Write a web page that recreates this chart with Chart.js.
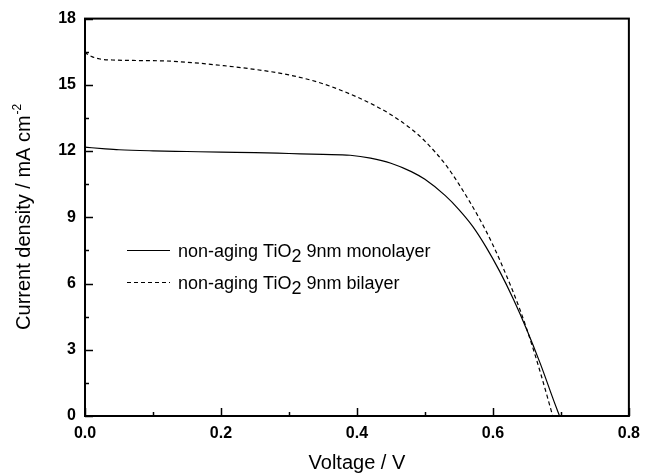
<!DOCTYPE html>
<html>
<head>
<meta charset="utf-8">
<script src="https://cdn.jsdelivr.net/npm/chart.js@4.4.1/dist/chart.umd.min.js"></script>
<style>
  html, body { margin: 0; padding: 0; background: #fff; }
  canvas { display: block; }
</style>
</head>
<body>
<canvas id="myChart" width="648" height="475"></canvas>
<script>
// monolayer J-V curve
const voltageMono = [0, 0.01, 0.03, 0.05, 0.1, 0.15, 0.2, 0.25, 0.3, 0.35, 0.39, 0.42, 0.45, 0.48, 0.5, 0.53, 0.55, 0.57, 0.59, 0.61, 0.63, 0.65, 0.67, 0.69, 0.698];
const currentMono = [12.18, 12.15, 12.1, 12.06, 12.01, 11.98, 11.95, 11.93, 11.89, 11.85, 11.81, 11.68, 11.45, 11.07, 10.72, 9.98, 9.35, 8.6, 7.65, 6.55, 5.3, 3.9, 2.35, 0.65, 0];

// bilayer J-V curve
const voltageBi = [0, 0.003, 0.01, 0.022, 0.046, 0.08, 0.12, 0.16, 0.2, 0.25, 0.3, 0.35, 0.4, 0.43, 0.45, 0.48, 0.5, 0.53, 0.55, 0.58, 0.6, 0.62, 0.64, 0.655, 0.67, 0.688];
const currentBi = [16.5, 16.4, 16.28, 16.17, 16.12, 16.1, 16.08, 16.0, 15.88, 15.7, 15.45, 15.05, 14.45, 14.0, 13.65, 13.0, 12.45, 11.4, 10.5, 8.95, 7.75, 6.35, 4.8, 3.45, 1.95, 0];

const xTickLabels = [0, 0.2, 0.4, 0.6, 0.8];
const yTickLabels = [0, 3, 6, 9, 12, 15, 18];

const legendNames = [["non-aging TiO", "2", " 9nm monolayer"], ["non-aging TiO", "2", " 9nm bilayer"]];

const FONT = '"Liberation Sans", Arial, Helvetica, sans-serif';

function toPoints(xs, ys) {
  return xs.map((x, i) => ({ x: x, y: ys[i] }));
}

// frame, inward ticks, legend and axis titles
const decorations = {
  id: 'decorations',
  afterDraw(chart) {
    const ctx = chart.ctx;
    const area = chart.chartArea;
    const xs = chart.scales.x;
    const ys = chart.scales.y;
    ctx.save();
    ctx.strokeStyle = '#000';
    ctx.fillStyle = '#000';

    // ticks
    ctx.lineWidth = 1.5;
    xs.ticks.forEach(t => {
      const px = Math.round(xs.getPixelForValue(t.value)) + 0.5;
      const major = xTickLabels.some(v => Math.abs(v - t.value) < 1e-6);
      ctx.beginPath();
      ctx.moveTo(px, area.bottom);
      ctx.lineTo(px, area.bottom - (major ? 8 : 4));
      ctx.stroke();
    });
    ys.ticks.forEach(t => {
      const py = Math.round(ys.getPixelForValue(t.value)) + 0.5;
      const major = yTickLabels.some(v => Math.abs(v - t.value) < 1e-6);
      ctx.beginPath();
      ctx.moveTo(area.left, py);
      ctx.lineTo(area.left + (major ? 8 : 4), py);
      ctx.stroke();
    });

    // frame
    ctx.lineWidth = 2;
    ctx.strokeRect(area.left, area.top, area.right - area.left, area.bottom - area.top);

    // legend
    const dashes = [[], [4, 3]];
    const rows = [250, 282];
    rows.forEach((y, i) => {
      ctx.lineWidth = 1.2;
      ctx.setLineDash(dashes[i]);
      ctx.beginPath();
      ctx.moveTo(127, y + 0.5);
      ctx.lineTo(170, y + 0.5);
      ctx.stroke();
      ctx.setLineDash([]);
      ctx.font = '18px ' + FONT;
      ctx.textAlign = 'left';
      ctx.textBaseline = 'alphabetic';
      let x = 178;
      const parts = legendNames[i];
      ctx.fillText(parts[0], x, y + 7);
      x += ctx.measureText(parts[0]).width;
      ctx.fillText(parts[1], x, y + 12);
      x += ctx.measureText(parts[1]).width;
      ctx.fillText(parts[2], x, y + 7);
    });

    // x title
    ctx.font = '20px ' + FONT;
    ctx.textAlign = 'center';
    ctx.textBaseline = 'middle';
    ctx.fillText('Voltage / V', (area.left + area.right) / 2, 463);

    // y title with superscript
    const main = 'Current density / mA cm';
    const sup = '-2';
    ctx.font = '20px ' + FONT;
    const w1 = ctx.measureText(main).width;
    ctx.font = '12px ' + FONT;
    const w2 = ctx.measureText(sup).width;
    ctx.translate(23, (area.top + area.bottom) / 2);
    ctx.rotate(-Math.PI / 2);
    ctx.textAlign = 'left';
    ctx.textBaseline = 'alphabetic';
    const start = -(w1 + w2) / 2;
    ctx.font = '20px ' + FONT;
    ctx.fillText(main, start, 7);
    ctx.font = '12px ' + FONT;
    ctx.fillText(sup, start + w1 + 1, -2);

    ctx.restore();
  }
};

const ctx = document.getElementById('myChart').getContext('2d');
new Chart(ctx, {
  type: 'line',
  data: {
    datasets: [
      {
        label: 'monolayer',
        data: toPoints(voltageMono, currentMono),
        borderColor: '#000',
        borderWidth: 1.2,
        pointRadius: 0,
        cubicInterpolationMode: 'monotone',
        fill: false
      },
      {
        label: 'bilayer',
        data: toPoints(voltageBi, currentBi),
        borderColor: '#000',
        borderWidth: 1.2,
        borderDash: [4, 3],
        pointRadius: 0,
        cubicInterpolationMode: 'monotone',
        fill: false
      }
    ]
  },
  options: {
    responsive: false,
    animation: false,
    layout: { padding: { top: 14, right: 11, left: 0, bottom: 0 } },
    plugins: {
      legend: { display: false },
      tooltip: { enabled: false }
    },
    scales: {
      x: {
        type: 'linear',
        min: 0,
        max: 0.8,
        grid: { display: false, drawTicks: false },
        border: { display: false },
        ticks: {
          stepSize: 0.1,
          autoSkip: false,
          maxRotation: 0,
          padding: 8,
          color: '#000',
          font: { family: FONT, size: 16, weight: 'bold' },
          callback: (value) => {
            const v = xTickLabels.find(t => Math.abs(t - value) < 1e-6);
            return v === undefined ? '' : v.toFixed(1);
          }
        },
        afterFit: (scale) => { scale.height = 59; }
      },
      y: {
        type: 'linear',
        min: 0,
        max: 18,
        grid: { display: false, drawTicks: false },
        border: { display: false },
        ticks: {
          stepSize: 1.5,
          autoSkip: false,
          padding: 9,
          color: '#000',
          font: { family: FONT, size: 16, weight: 'bold' },
          callback: (value) => {
            const v = yTickLabels.find(t => Math.abs(t - value) < 1e-6);
            return v === undefined ? '' : String(v);
          }
        },
        afterFit: (scale) => { scale.width = 85; }
      }
    }
  },
  plugins: [decorations]
});
</script>
</body>
</html>
